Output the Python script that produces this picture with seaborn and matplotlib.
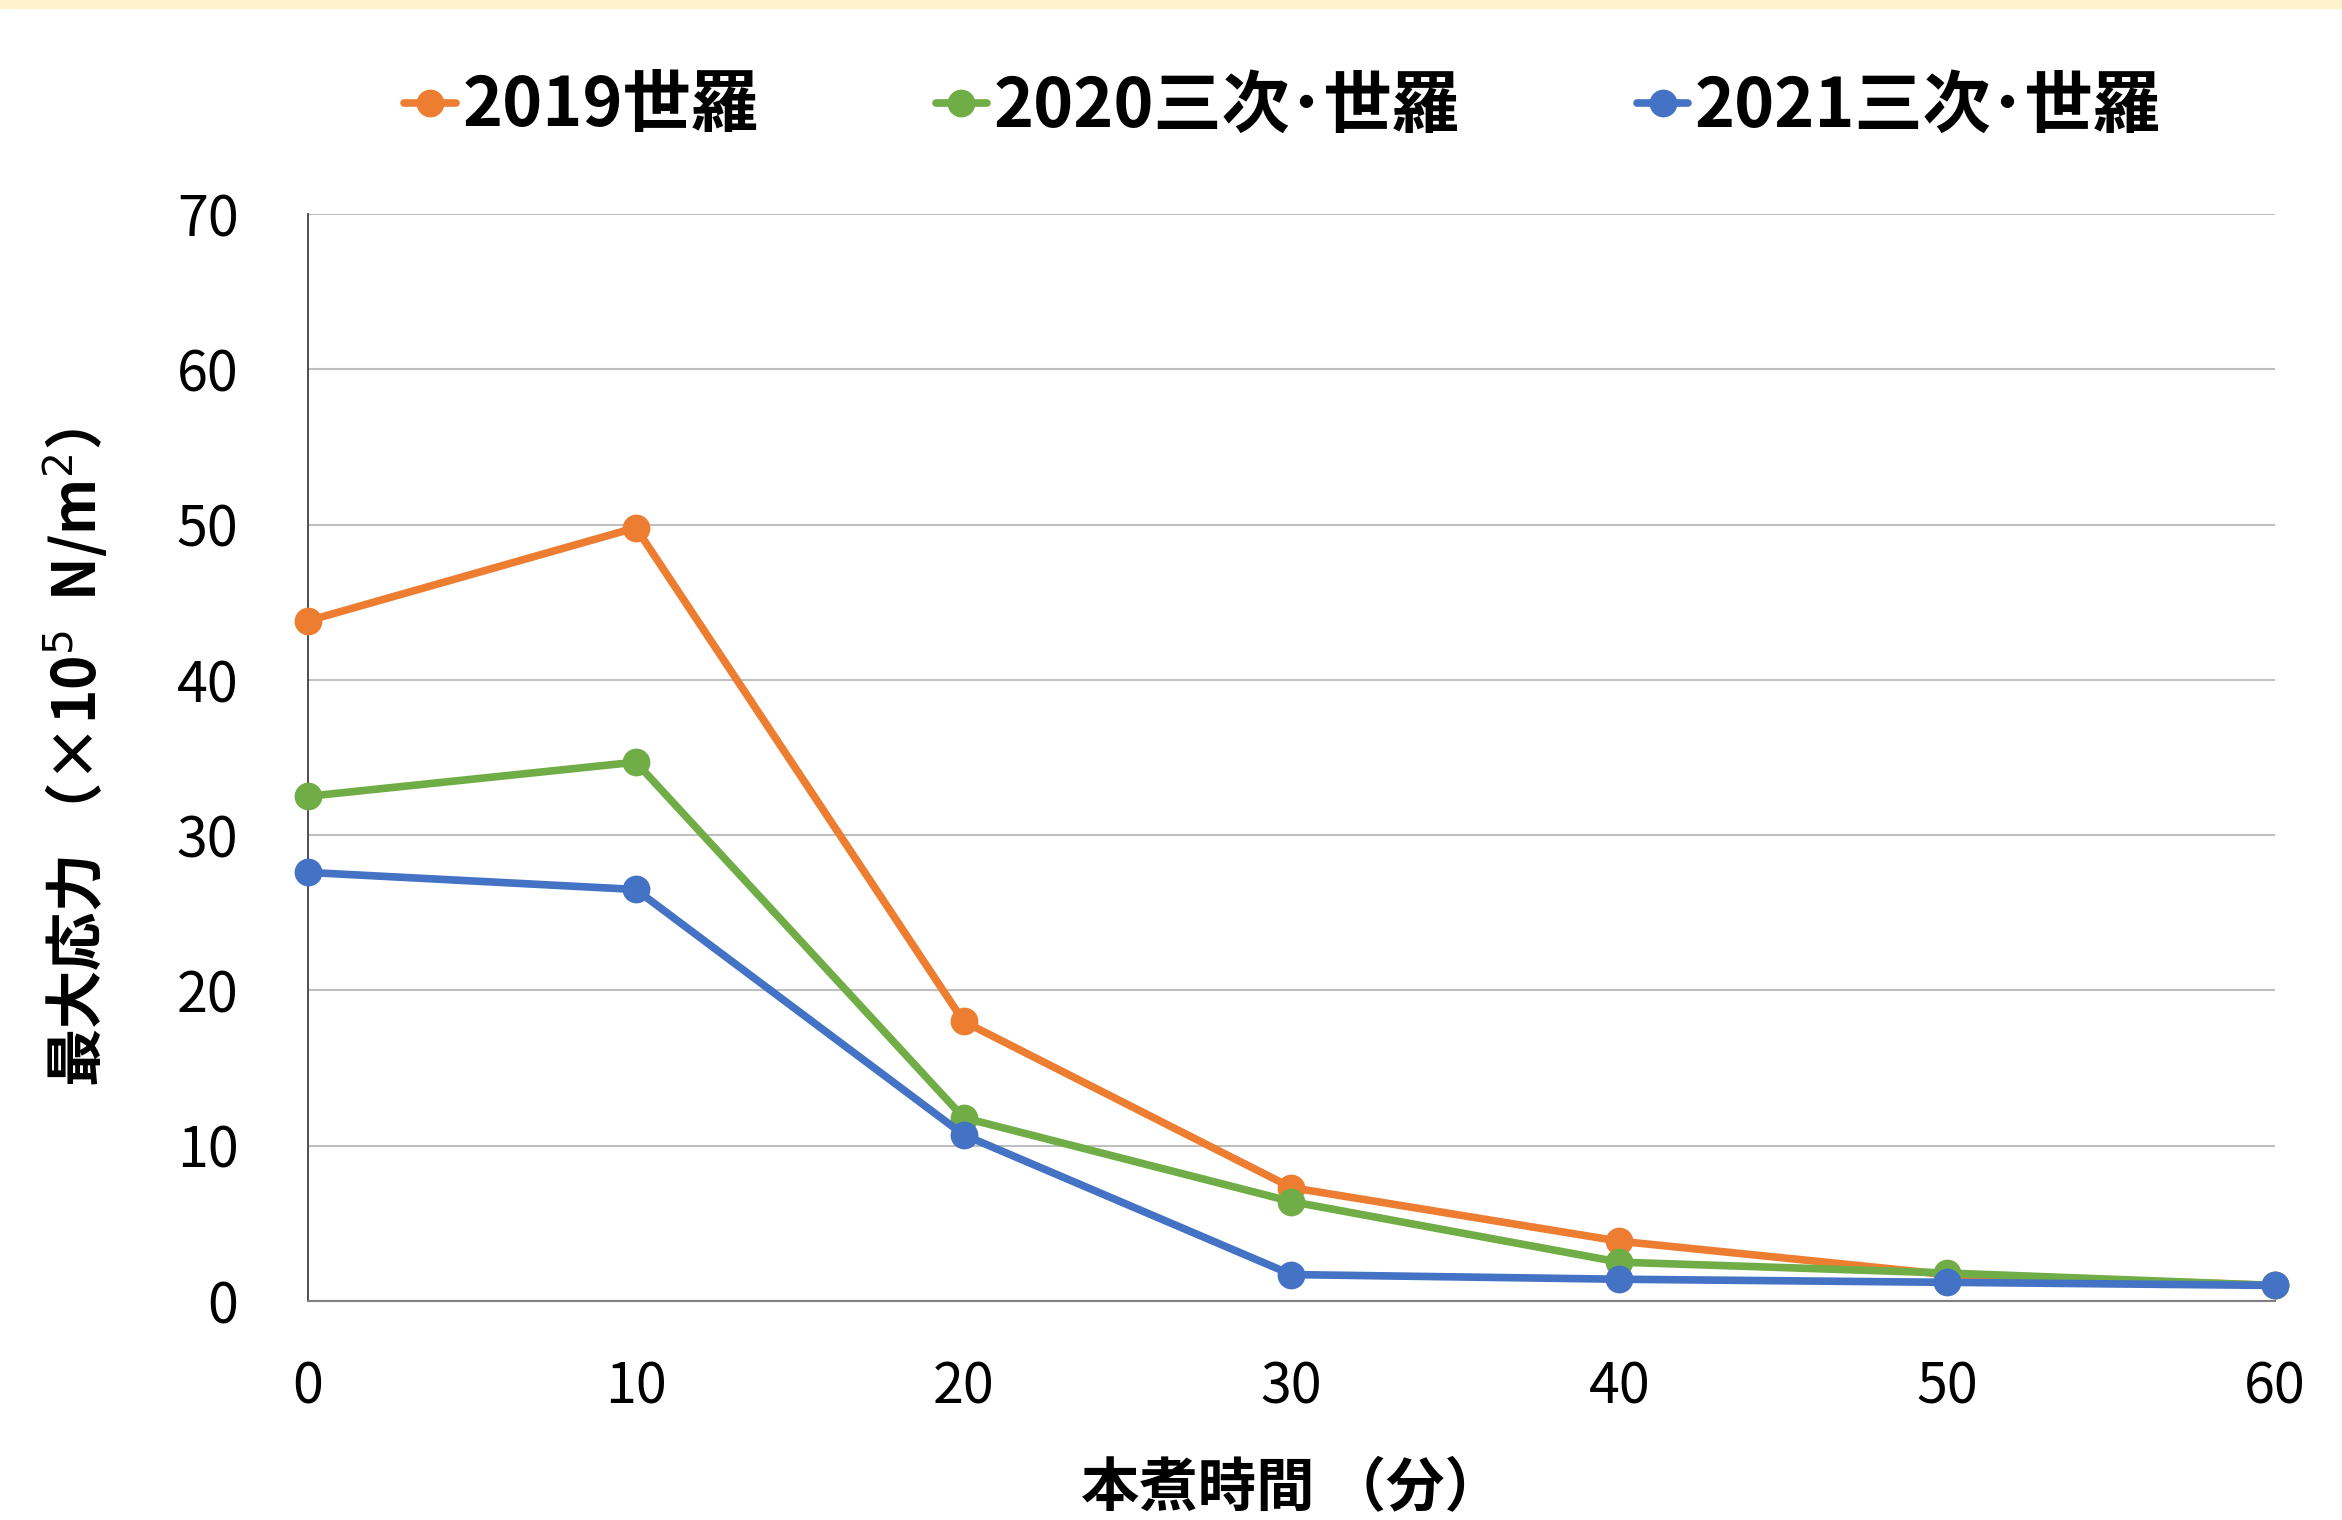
import numpy as np
import pandas as pd
import matplotlib.pyplot as plt
import seaborn as sns

# boiling time (min) and max stress values
minutes = [0, 10, 20, 30, 40, 50, 60]
stress_2019 = [43.8, 49.8, 18.0, 7.3, 3.85, 1.7, 1.0]
stress_2020 = [32.5, 34.7, 11.8, 6.4, 2.5, 1.8, 1.0]
stress_2021 = [27.6, 26.5, 10.7, 1.7, 1.4, 1.2, 1.0]
series_names = ['2019世羅', '2020三次･世羅', '2021三次･世羅']
colors = ['#ED7D31', '#70AD47', '#4472C4']

df = pd.DataFrame({
    'minutes': minutes * 3,
    'stress': stress_2019 + stress_2020 + stress_2021,
    'series': [n for n in series_names for _ in minutes],
})

sns.set_style('white')
plt.rcParams['font.family'] = ['Noto Sans CJK JP', 'DejaVu Sans']
plt.rcParams['text.color'] = 'black'
plt.rcParams['axes.labelcolor'] = 'black'
plt.rcParams['xtick.color'] = 'black'
plt.rcParams['ytick.color'] = 'black'

fig = plt.figure(figsize=(23.42, 15.2), dpi=100)
# light yellow band at the very top
fig.patches.append(plt.Rectangle((0, 1 - 8 / 1520), 1, 8 / 1520, transform=fig.transFigure,
                                 color='#FFF2CC', zorder=0))
ax = fig.add_axes([0.1315, 0.1441, 0.8399, 0.7151])

sns.lineplot(data=df, x='minutes', y='stress', hue='series', hue_order=series_names,
             palette=colors, ax=ax, legend=True, zorder=3)
for line in ax.lines:
    line.set_linewidth(5.5)
    line.set_marker('o')
    line.set_markersize(20)
    line.set_markeredgewidth(0)
    line.set_clip_on(False)

ax.set_xlim(0, 60)
ax.set_ylim(0, 70)
ax.set_xticks(range(0, 61, 10))
ax.set_yticks(range(0, 71, 10))
ax.grid(axis='y', color='#BFBFBF', linewidth=1.5)
ax.grid(axis='x', visible=False)
for s in ['top', 'right']:
    ax.spines[s].set_visible(False)
ax.spines['left'].set_color('#404040')
ax.spines['left'].set_linewidth(1.3)
ax.spines['bottom'].set_color('#7F7F7F')
ax.spines['bottom'].set_linewidth(1.5)
ax.tick_params(axis='both', labelsize=40, length=14, width=1.2, color='#404040',
               labelcolor='black')
ax.tick_params(axis='y', pad=36)
ax.tick_params(axis='x', pad=28)

ax.set_xlabel('本煮時間 （分）', fontsize=42, fontweight='bold', labelpad=30)
ax.set_ylabel('最大応力 （×10$^5$  N/m$^2$）', fontsize=42, fontweight='bold', labelpad=48)

handles, labels = ax.get_legend_handles_labels()
ax.get_legend().remove()
fig.legend(handles, labels, loc='center', bbox_to_anchor=(1283 / 2342, 1 - 107 / 1520),
           ncol=3, frameon=False, handlelength=0.75, handletextpad=0.1, columnspacing=2.6,
           prop={'size': 49, 'weight': 'bold'})

plt.savefig('out.png', dpi=100)
